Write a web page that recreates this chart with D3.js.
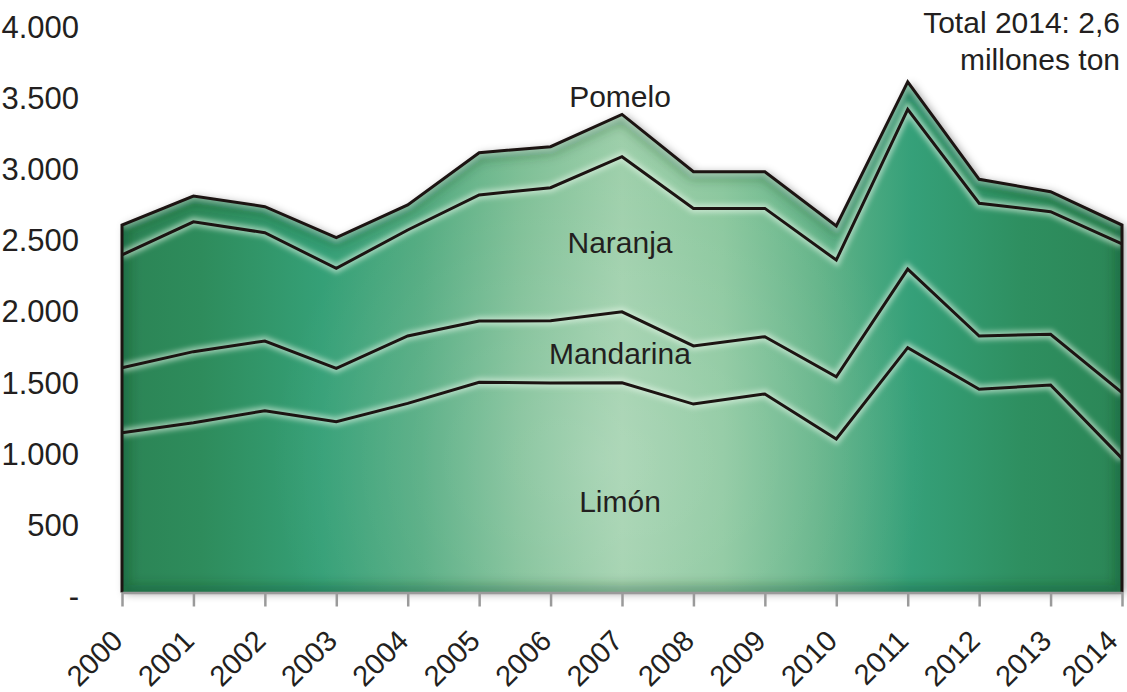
<!DOCTYPE html>
<html>
<head>
<meta charset="utf-8">
<script src="https://cdn.jsdelivr.net/npm/d3@7"></script>
<style>
  html, body { margin: 0; padding: 0; background: #fff; }
  svg text { font-family: "Liberation Sans", Arial, Helvetica, sans-serif; fill: #231f20; }
</style>
</head>
<body>
<div id="vis"></div>
<script>
// data (miles de toneladas)
const years = [2000, 2001, 2002, 2003, 2004, 2005, 2006, 2007, 2008, 2009, 2010, 2011, 2012, 2013, 2014];
const limon     = [1122, 1192, 1276, 1199, 1328, 1476, 1471, 1473, 1323, 1394, 1078, 1719, 1427, 1457, 942];
const mandarina = [456, 499, 490, 375, 473, 430, 437, 498, 408, 402, 437, 552, 374, 356, 461];
const naranja   = [792, 912, 760, 702, 744, 885, 934, 1089, 966, 901, 819, 1122, 932, 861, 1044];
const pomelo    = [210, 181, 183, 215, 176, 297, 288, 297, 257, 257, 239, 193, 168, 140, 133];
const seriesKeys = ["Limón", "Mandarina", "Naranja", "Pomelo"];
const yTicks = [0, 500, 1000, 1500, 2000, 2500, 3000, 3500, 4000];
const totalNote = ["Total 2014: 2,6", "millones ton"];

// where the series names sit
const seriesLabelPos = [
  { key: "Limón", x: 620, y: 512 },
  { key: "Mandarina", x: 620, y: 364 },
  { key: "Naranja", x: 620, y: 253 },
  { key: "Pomelo", x: 620, y: 107 }
];

const W = 1127, H = 692;

const svg = d3.select("#vis")
  .append("svg")
  .attr("width", W)
  .attr("height", H);

const rows = years.map((yr, i) => ({
  year: yr,
  "Limón": limon[i],
  "Mandarina": mandarina[i],
  "Naranja": naranja[i],
  "Pomelo": pomelo[i]
}));

const stacked = d3.stack().keys(seriesKeys)(rows);

const x = d3.scaleLinear()
  .domain([2000, 2014])
  .range([122, 1122]);

const y = d3.scaleLinear()
  .domain([0, 4000])
  .range([592.5, 22.8]);

// ----- defs: gradients + filters -----
const defs = svg.append("defs");

const grad = defs.append("linearGradient")
  .attr("id", "greenGrad")
  .attr("gradientUnits", "userSpaceOnUse")
  .attr("x1", 122).attr("x2", 1122)
  .attr("y1", 0).attr("y2", 0);

const stops = [
  [0, "#2b8455"], [0.08, "#2e8c5c"], [0.2, "#35a077"], [0.3, "#52ab80"],
  [0.4, "#7dbf95"], [0.5, "#9dcfaa"], [0.6, "#8ac79d"], [0.7, "#62b388"],
  [0.79, "#35a079"], [0.9, "#2e8f60"], [1, "#2b8656"]
];
grad.selectAll("stop")
  .data(stops)
  .join("stop")
  .attr("offset", d => d[0])
  .attr("stop-color", d => d[1]);

const radial = defs.append("radialGradient")
  .attr("id", "glow")
  .attr("gradientUnits", "userSpaceOnUse")
  .attr("cx", 600).attr("cy", 460).attr("r", 330);
radial.append("stop").attr("offset", 0).attr("stop-color", "#fff").attr("stop-opacity", 0.18);
radial.append("stop").attr("offset", 1).attr("stop-color", "#fff").attr("stop-opacity", 0);

const shadow = defs.append("filter")
  .attr("id", "shadow")
  .attr("x", "-10%").attr("y", "-10%")
  .attr("width", "120%").attr("height", "120%");
shadow.append("feDropShadow")
  .attr("dx", 3).attr("dy", 1)
  .attr("stdDeviation", 4.5)
  .attr("flood-color", "#000")
  .attr("flood-opacity", 0.38);

const blur = defs.append("filter").attr("id", "blur");
blur.append("feGaussianBlur").attr("stdDeviation", 2.5);

const blurBig = defs.append("filter").attr("id", "blurBig");
blurBig.append("feGaussianBlur").attr("stdDeviation", 6);

// total outline (top of Pomelo + side edges)
const topLayer = stacked[stacked.length - 1];
const outlinePts = [[years[0], 0]]
  .concat(topLayer.map(d => [d.data.year, d[1]]))
  .concat([[years[years.length - 1], 0]]);

const outline = d3.line()
  .x(d => x(d[0]))
  .y(d => y(d[1]));

defs.append("clipPath")
  .attr("id", "areaClip")
  .append("path")
  .attr("d", outline(outlinePts) + "Z");

const area = d3.area()
  .x(d => x(d.data.year))
  .y0(d => y(d[0]))
  .y1(d => y(d[1]));

// shadow behind the shape
svg.append("path")
  .attr("d", outline(outlinePts) + "Z")
  .attr("fill", "#2e8c5c")
  .attr("filter", "url(#shadow)");

const areaG = svg.append("g");

areaG.selectAll(".layer")
  .data(stacked)
  .join("path")
  .attr("class", "layer")
  .attr("d", area)
  .attr("fill", "url(#greenGrad)");

const inner = svg.append("g").attr("clip-path", "url(#areaClip)");

inner.append("rect")
  .attr("x", 0).attr("y", 0)
  .attr("width", W).attr("height", H)
  .attr("fill", "url(#glow)");

// darker inner edge
inner.append("path")
  .attr("d", outline(outlinePts) + "Z")
  .attr("fill", "none")
  .attr("stroke", "#0d3d22")
  .attr("stroke-opacity", 0.35)
  .attr("stroke-width", 14)
  .attr("filter", "url(#blurBig)");

const topLine = d3.line()
  .x(d => x(d.data.year))
  .y(d => y(d[1]));

// soft light halo under each boundary line
inner.selectAll(".halo")
  .data(stacked)
  .join("path")
  .attr("class", "halo")
  .attr("d", topLine)
  .attr("fill", "none")
  .attr("stroke", "#e8f5ea")
  .attr("stroke-opacity", d => d.key === "Pomelo" ? 0.45 : 0.55)
  .attr("stroke-width", 9)
  .attr("filter", "url(#blur)");

// boundary lines
svg.selectAll(".bound")
  .data(stacked.slice(0, 3))
  .join("path")
  .attr("class", "bound")
  .attr("d", topLine)
  .attr("fill", "none")
  .attr("stroke", "#1c1412")
  .attr("stroke-width", 3)
  .attr("stroke-linejoin", "miter");

svg.append("path")
  .attr("d", outline(outlinePts))
  .attr("fill", "none")
  .attr("stroke", "#1c1412")
  .attr("stroke-width", 3)
  .attr("stroke-linejoin", "miter");

// x axis
const xAxisG = svg.append("g")
  .attr("transform", `translate(0,${y(0)})`)
  .call(d3.axisBottom(x)
    .tickValues(years)
    .tickFormat(d3.format("d"))
    .tickSize(14)
    .tickSizeOuter(0));

xAxisG.select(".domain")
  .attr("stroke", "#9a9a9a")
  .attr("stroke-width", 2.5);
xAxisG.selectAll(".tick line")
  .attr("stroke", "#9a9a9a")
  .attr("stroke-width", 2.5);
// last label nudged left so it stays inside the frame
xAxisG.selectAll(".tick text")
  .attr("x", 0).attr("y", 0).attr("dy", 0)
  .attr("transform", d => `translate(${d === 2014 ? -3 : 2},50) rotate(-45)`)
  .attr("text-anchor", "end")
  .style("font-size", "29px")
  .style("font-family", "'Liberation Sans', Arial, sans-serif")
  .attr("fill", "#231f20");

// y axis
const yAxisG = svg.append("g")
  .attr("transform", "translate(79,0)")
  .call(d3.axisLeft(y)
    .tickValues(yTicks)
    .tickSize(0)
    .tickPadding(0)
    .tickFormat(d => d === 0 ? "-" : d3.format(",")(d).replace(/,/g, ".")));

yAxisG.select(".domain").remove();
yAxisG.selectAll(".tick text")
  .attr("dy", "0.46em")
  .style("font-size", "31px")
  .style("font-family", "'Liberation Sans', Arial, sans-serif")
  .attr("fill", "#231f20");

// series labels
svg.selectAll(".slabel")
  .data(seriesLabelPos)
  .join("text")
  .attr("class", "slabel")
  .attr("x", d => d.x)
  .attr("y", d => d.y)
  .attr("text-anchor", "middle")
  .style("font-size", "30px")
  .text(d => d.key);

// total note
svg.selectAll(".note")
  .data(totalNote)
  .join("text")
  .attr("class", "note")
  .attr("x", 1120)
  .attr("y", (d, i) => 33 + i * 37)
  .attr("text-anchor", "end")
  .style("font-size", "30px")
  .text(d => d);
</script>
</body>
</html>
